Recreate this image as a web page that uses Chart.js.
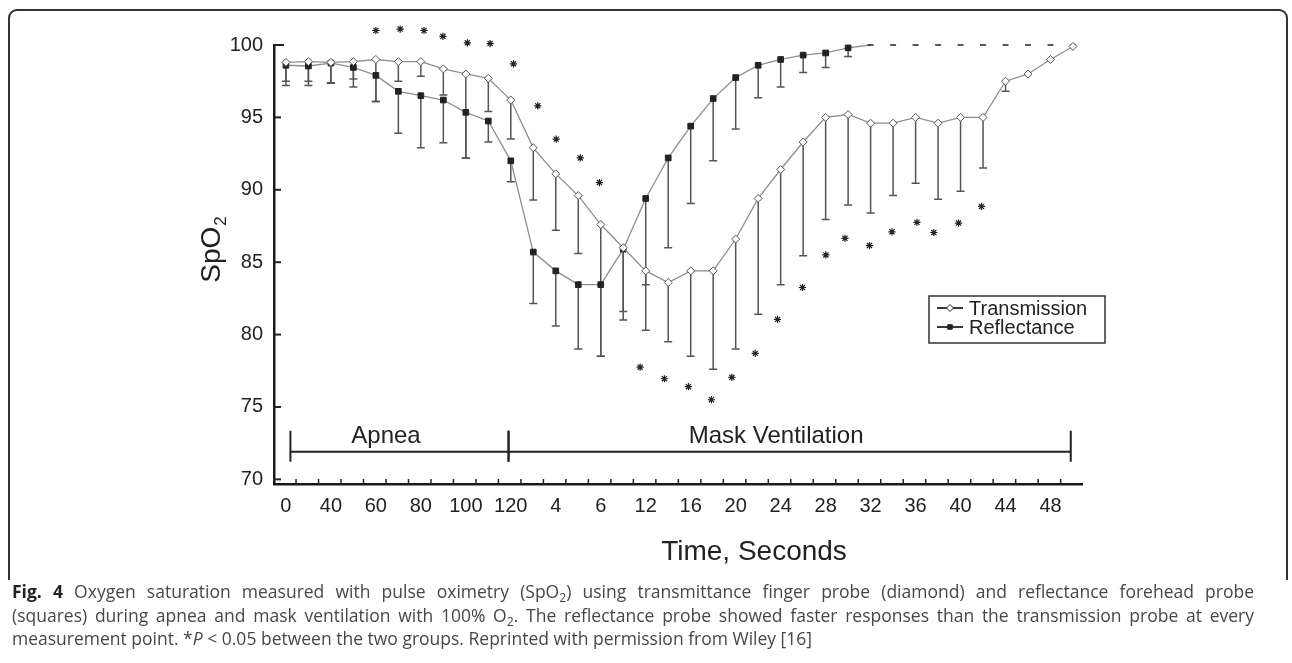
<!DOCTYPE html>
<html>
<head>
<meta charset="utf-8">
<script src="https://cdn.jsdelivr.net/npm/chart.js@4.4.1/dist/chart.umd.min.js"></script>
<style>
  html, body { margin: 0; padding: 0; background: #fff; }
  body { width: 1292px; height: 663px; position: relative; overflow: hidden; }
  #frame { position: absolute; left: 8px; top: 9px; width: 1280px; height: 571px; border: 2px solid #333; border-bottom: none; border-radius: 9px 9px 0 0; box-sizing: border-box; }
  #chart { position: absolute; left: 0; top: 0; }
  #caption { position: absolute; left: 12px; top: 580px; font-family: 'Open Sans', sans-serif; font-size: 17.5px; line-height: 23.5px; color: #474747; white-space: nowrap; }
  #caption .just { width: 1242px; text-align: justify; text-align-last: justify; }
  #caption b { color: #222; }
  #caption sub { font-size: 0.7em; line-height: 0; vertical-align: -0.3em; }
</style>
</head>
<body>
<div id="frame"></div>
<canvas id="chart" width="1292" height="580"></canvas>
<div id="caption">
  <div class="just"><b>Fig. 4</b> Oxygen saturation measured with pulse oximetry (SpO<sub>2</sub>) using transmittance finger probe (diamond) and reflectance forehead probe</div>
  <div class="just">(squares) during apnea and mask ventilation with 100% O<sub>2</sub>. The reflectance probe showed faster responses than the transmission probe at every</div>
  <div>measurement point. *<i>P</i> &lt; 0.05 between the two groups. Reprinted with permission from Wiley [16]</div>
</div>
<script>
// tick labels shown under every second measurement point
const timeLabels = ['0', '40', '60', '80', '100', '120', '4', '6', '12', '16', '20', '24', '28', '32', '36', '40', '44', '48'];
const yTicks = [70, 75, 80, 85, 90, 95, 100];

// mean SpO2 per measurement point (36 points)
const transmission = [98.8, 98.85, 98.8, 98.85, 99.0, 98.85, 98.85, 98.35, 98.0, 97.7, 96.2, 92.9,
  91.1, 89.6, 87.6, 86.0, 84.4, 83.6, 84.4, 84.4, 86.6, 89.4, 91.4, 93.3,
  95.0, 95.2, 94.6, 94.6, 95.0, 94.6, 95.0, 95.0, 97.5, 98.0, 99.0, 99.9];
const reflectance = [98.6, 98.55, 98.75, 98.45, 97.9, 96.8, 96.5, 96.2, 95.35, 94.75, 92.0, 85.7,
  84.4, 83.45, 83.45, 85.9, 89.4, 92.2, 94.4, 96.3, 97.75, 98.6, 99.0, 99.3,
  99.45, 99.8, 100, 100, 100, 100, 100, 100, 100, 100, 100, 100];

// lower end of the (one-sided) error bars
const transLow = [97.5, 97.5, 97.4, 97.65, 96.1, 97.5, 97.85, 96.55, 92.2, 95.4, 93.5, 89.3,
  87.2, 85.6, 78.5, 81.6, 80.3, 79.5, 78.5, 77.6, 79.0, 81.4, 83.45, 85.45,
  87.95, 88.95, 88.4, 89.6, 90.45, 89.35, 89.9, 91.5, 96.8, null, null, null];
const reflLow = [97.2, 97.2, 97.35, 97.1, 96.1, 93.9, 92.9, 93.25, 92.2, 93.3, 90.55, 82.15,
  80.6, 79.0, 78.5, 81.0, 83.45, 86.0, 89.05, 92.0, 94.2, 96.35, 97.1, 98.1,
  98.45, 99.2, null, null, null, null, null, null, null, null, null, null];

// significance markers (*P < 0.05)
const starX = [4.0, 5.08, 6.14, 6.98, 8.07, 9.08, 10.12, 11.2, 12.02, 13.09, 13.94,
  15.75, 16.83, 17.9, 18.92, 19.83, 20.87, 21.86, 22.97, 24.01, 24.86, 25.95, 26.95, 28.06, 28.81, 29.91, 30.93];
const starY = [101.0, 101.1, 101.0, 100.6, 100.15, 100.1, 98.7, 95.8, 93.5, 92.2, 90.5,
  77.75, 76.95, 76.4, 75.5, 77.05, 78.7, 81.05, 83.25, 85.5, 86.65, 86.15, 87.1, 87.75, 87.05, 87.7, 88.85];

// phase brackets along the bottom
const phases = [
  { label: 'Apnea', from: 0.2, to: 9.9, mid: 4.45 },
  { label: 'Mask Ventilation', from: 9.9, to: 34.9, mid: 21.8 }
];
const bracketLevel = 71.9;

const FONT = "'Liberation Sans', Arial, sans-serif";
Chart.defaults.font.family = FONT;
Chart.defaults.color = '#222';

const LINE_GREY = '#8e8e8e';
const INK = '#222';

const decorations = {
  id: 'decorations',
  beforeDatasetsDraw(chart) {
    const { ctx, scales: { x, y } } = chart;
    ctx.save();
    ctx.strokeStyle = '#555';
    ctx.lineWidth = 1.5;
    [[transmission, transLow], [reflectance, reflLow]].forEach(([vals, lows]) => {
      lows.forEach((lo, i) => {
        if (lo == null) return;
        const px = x.getPixelForValue(i);
        const yl = y.getPixelForValue(lo);
        ctx.beginPath();
        ctx.moveTo(px, y.getPixelForValue(vals[i]));
        ctx.lineTo(px, yl);
        ctx.moveTo(px - 4, yl);
        ctx.lineTo(px + 4, yl);
        ctx.stroke();
      });
    });
    ctx.restore();
  },
  afterDatasetsDraw(chart) {
    // asterisks, some sit above the top of the axis so they are drawn here unclipped
    const { ctx, scales: { x, y } } = chart;
    ctx.save();
    ctx.strokeStyle = INK;
    ctx.lineWidth = 1.2;
    starX.forEach((sx, i) => {
      Chart.helpers.drawPoint(ctx, { pointStyle: 'star', radius: 3.6, borderWidth: 1.2, rotation: 0 },
        x.getPixelForValue(sx), y.getPixelForValue(starY[i]));
    });
    ctx.restore();
  },
  afterDraw(chart) {
    const { ctx, chartArea: area, scales: { x, y } } = chart;
    ctx.save();
    ctx.strokeStyle = INK;
    ctx.fillStyle = INK;

    // inward tick marks
    ctx.lineWidth = 2;
    yTicks.forEach(v => {
      const py = y.getPixelForValue(v);
      ctx.beginPath();
      ctx.moveTo(area.left, py);
      ctx.lineTo(area.left + (v === 100 ? 10 : 7), py);
      ctx.stroke();
    });
    ctx.lineWidth = 1.5;
    for (let i = 0; i < 35; i++) {
      const px = x.getPixelForValue(i + 0.45);
      ctx.beginPath();
      ctx.moveTo(px, area.bottom);
      ctx.lineTo(px, area.bottom - 5);
      ctx.stroke();
    }

    // phase brackets
    const by = y.getPixelForValue(bracketLevel);
    ctx.lineWidth = 2;
    ctx.font = '24px ' + FONT;
    ctx.textAlign = 'center';
    ctx.textBaseline = 'alphabetic';
    phases.forEach(p => {
      const x0 = x.getPixelForValue(p.from), x1 = x.getPixelForValue(p.to);
      ctx.beginPath();
      ctx.moveTo(x0, by); ctx.lineTo(x1, by);
      ctx.moveTo(x0, by - 21); ctx.lineTo(x0, by + 10);
      ctx.moveTo(x1, by - 21); ctx.lineTo(x1, by + 10);
      ctx.stroke();
      ctx.fillText(p.label, x.getPixelForValue(p.mid), by - 9);
    });

    // axis titles
    ctx.font = '28px ' + FONT;
    ctx.textBaseline = 'middle';
    ctx.fillText('Time, Seconds', area.left + 480, 552);

    ctx.save();
    ctx.translate(area.left - 64, 250);
    ctx.rotate(-Math.PI / 2);
    ctx.font = '28px ' + FONT;
    const w1 = ctx.measureText('SpO').width;
    ctx.font = '17px ' + FONT;
    const w2 = ctx.measureText('2').width;
    const sx = -(w1 + w2) / 2;
    ctx.textAlign = 'left';
    ctx.textBaseline = 'alphabetic';
    ctx.font = '28px ' + FONT;
    ctx.fillText('SpO', sx, 10);
    ctx.font = '17px ' + FONT;
    ctx.fillText('2', sx + w1 + 1, 16);
    ctx.restore();

    // legend box
    const bx = area.right - 153, byTop = area.top + 251, bw = 176, bh = 47;
    ctx.lineWidth = 1.5;
    ctx.strokeStyle = '#333';
    ctx.strokeRect(bx, byTop, bw, bh);
    const rows = [
      { ds: chart.data.datasets[0], cy: byTop + 12, style: 'rectRot', r: 3.5 },
      { ds: chart.data.datasets[1], cy: byTop + 31, style: 'rect', r: 3.2 }
    ];
    ctx.font = '20px ' + FONT;
    ctx.textAlign = 'left';
    ctx.textBaseline = 'middle';
    rows.forEach(row => {
      ctx.strokeStyle = INK;
      ctx.lineWidth = 1.8;
      ctx.beginPath();
      ctx.moveTo(bx + 8, row.cy);
      ctx.lineTo(bx + 34, row.cy);
      ctx.stroke();
      ctx.lineWidth = 1;
      ctx.fillStyle = row.ds.pointBackgroundColor;
      ctx.strokeStyle = INK;
      Chart.helpers.drawPoint(ctx, { pointStyle: row.style, radius: row.r, borderWidth: 1, rotation: 0 }, bx + 21, row.cy);
      ctx.fillStyle = INK;
      ctx.fillText(row.ds.label, bx + 40, row.cy + 1);
    });
    ctx.restore();
  }
};

const isTop = v => v >= 100;

new Chart(document.getElementById('chart'), {
  type: 'line',
  data: {
    datasets: [
      {
        label: 'Transmission',
        data: transmission.map((v, i) => ({ x: i, y: v })),
        borderColor: LINE_GREY,
        borderWidth: 1.3,
        pointStyle: 'rectRot',
        pointRadius: 4,
        pointBackgroundColor: '#fff',
        pointBorderColor: '#555',
        pointBorderWidth: 1,
        tension: 0,
        clip: false
      },
      {
        label: 'Reflectance',
        data: reflectance.map((v, i) => ({ x: i, y: v })),
        borderColor: LINE_GREY,
        borderWidth: 1.3,
        pointStyle: ctx => isTop(ctx.raw.y) ? 'line' : 'rect',
        pointRadius: ctx => isTop(ctx.raw.y) ? 3 : 4,
        pointBackgroundColor: INK,
        pointBorderColor: INK,
        pointBorderWidth: ctx => isTop(ctx.raw.y) ? 1.5 : 1,
        segment: {
          borderColor: ctx => (isTop(ctx.p0.parsed.y) && isTop(ctx.p1.parsed.y)) ? 'rgba(0,0,0,0)' : LINE_GREY
        },
        tension: 0,
        clip: false
      }
    ]
  },
  options: {
    responsive: false,
    animation: false,
    events: [],
    layout: { padding: { top: 45, right: 210, bottom: 0, left: 0 } },
    plugins: {
      legend: { display: false },
      tooltip: { enabled: false }
    },
    scales: {
      x: {
        type: 'linear',
        min: -0.53,
        max: 35.4,
        afterFit: s => { s.height = 96; },
        afterBuildTicks: s => { s.ticks = timeLabels.map((_, k) => ({ value: 2 * k })); },
        grid: { display: false, drawTicks: false },
        border: { display: true, color: '#1a1a1a', width: 2.5 },
        ticks: {
          autoSkip: false,
          maxRotation: 0,
          minRotation: 0,
          padding: 10,
          font: { size: 20 },
          color: INK,
          callback: v => timeLabels[v / 2]
        }
      },
      y: {
        min: 69.68,
        max: 100,
        afterFit: s => { s.width = 274; },
        afterBuildTicks: s => { s.ticks = yTicks.map(v => ({ value: v })); },
        grid: { display: false, drawTicks: false },
        border: { display: true, color: '#1a1a1a', width: 2.5 },
        ticks: {
          padding: 11,
          font: { size: 20 },
          color: INK
        }
      }
    }
  },
  plugins: [decorations]
});
</script>
</body>
</html>
